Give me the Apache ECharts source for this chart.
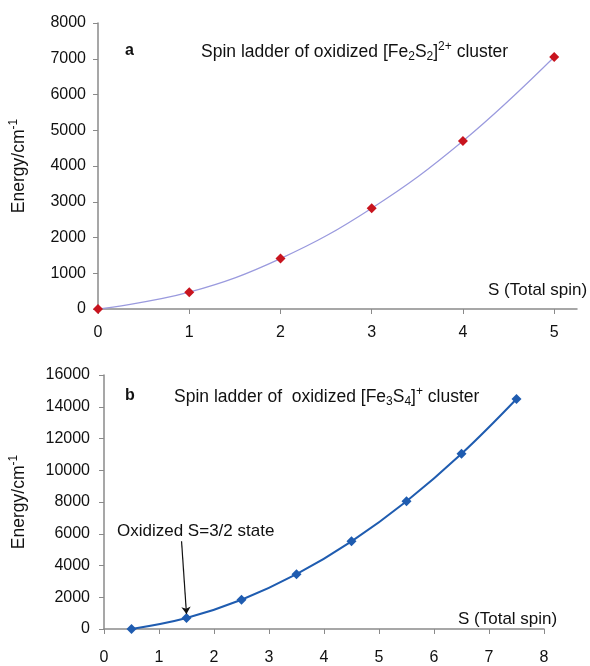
<!DOCTYPE html>
<html lang="en">
<head>
	<meta charset="UTF-8">
	<title>Spin ladders</title>
	<script type="text/javascript" src="https://cdn.jsdelivr.net/npm/echarts@6/dist/echarts.min.js"></script>
	<style type="text/css">
		html,body{margin:0;padding:0;background:#fff;}
	</style>
</head>
<body>
	<div id="main" style="width:590px;height:666px;"></div>
	<script>
		// panel a : [Fe2S2]2+
		var spinA = [0, 1, 2, 3, 4, 5];
		var energyA = [0, 470, 1410, 2820, 4700, 7050];
		var ticksA = [0, 1, 2, 3, 4, 5];
		// panel b : [Fe3S4]+
		var spinB = [0.5, 1.5, 2.5, 3.5, 4.5, 5.5, 6.5, 7.5];
		var energyB = [0, 690, 1840, 3450, 5520, 8050, 11040, 14490];
		var ticksB = [0, 1, 2, 3, 4, 5, 6, 7, 8];

		var font = 'Liberation Sans, Arial, sans-serif';
		var rich = {
			n: {fontSize: 17.5, lineHeight: 22, fontWeight: 'normal', color: '#111', fontFamily: font},
			sub: {fontSize: 12, lineHeight: 10, fontWeight: 'normal', verticalAlign: 'bottom', color: '#111', fontFamily: font},
			sup: {fontSize: 12, lineHeight: 10, fontWeight: 'normal', verticalAlign: 'top', color: '#111', fontFamily: font}
		};

		function pairs(xs, ys){
			var out = [];
			for(var i = 0; i < xs.length; i++){ out.push([xs[i], ys[i]]); }
			return out;
		}

		function xAxisOf(idx, max, ticks, margin){
			return {
				type: 'value', gridIndex: idx, min: 0, max: max,
				axisLine: {onZero: false, lineStyle: {color: '#8a8a8a', width: 1.5}},
				axisTick: {show: true, length: 5, customValues: ticks, lineStyle: {color: '#8a8a8a'}},
				axisLabel: {customValues: ticks, margin: margin, fontSize: 16, color: '#111', fontFamily: font},
				splitLine: {show: false}
			};
		}
		function yAxisOf(idx, max, interval, gap, margin){
			return {
				type: 'value', gridIndex: idx, min: 0, max: max, interval: interval,
				name: '{n|Energy/cm}{sup|-1}', nameLocation: 'middle', nameGap: gap, nameRotate: 90,
				nameTextStyle: {rich: rich},
				axisLine: {show: true, lineStyle: {color: '#8a8a8a', width: 1.5}},
				axisTick: {show: true, length: 5, lineStyle: {color: '#8a8a8a'}},
				axisLabel: {margin: margin, fontSize: 16, color: '#111', fontFamily: font,
					formatter: function(v){ return String(v); }},
				splitLine: {show: false}
			};
		}

		var chart = echarts.init(document.getElementById('main'));
		var option = {
			animation: false,
			backgroundColor: '#fff',
			grid: [
				{left: 92, top: 23, width: 485, height: 286},
				{left: 99, top: 375, width: 445, height: 258}
			],
			title: [
				{text: 'a', left: 120, top: 38, textStyle: {fontSize: 16, fontWeight: 'bold', color: '#111', fontFamily: font}},
				{text: '{n|Spin ladder of oxidized [Fe}{sub|2}{n|S}{sub|2}{n|]}{sup|2+}{n| cluster}', left: 196, top: 36, textStyle: {fontWeight: 'normal', rich: rich}},
				{text: 'S (Total spin)', left: 483, top: 277, textStyle: {fontSize: 17, fontWeight: 'normal', color: '#111', fontFamily: font}},
				{text: 'b', left: 120, top: 383, textStyle: {fontSize: 16, fontWeight: 'bold', color: '#111', fontFamily: font}},
				{text: '{n|Spin ladder of  oxidized [Fe}{sub|3}{n|S}{sub|4}{n|]}{sup|+}{n| cluster}', left: 169, top: 381, textStyle: {fontWeight: 'normal', rich: rich}},
				{text: 'S (Total spin)', left: 453, top: 606, textStyle: {fontSize: 17, fontWeight: 'normal', color: '#111', fontFamily: font}},
				{text: 'Oxidized S=3/2 state', left: 112, top: 518, textStyle: {fontSize: 17, fontWeight: 'normal', color: '#111', fontFamily: font}}
			],
			xAxis: [xAxisOf(0, 5.25, ticksA, 16), xAxisOf(1, 8, ticksB, 21)],
			yAxis: [yAxisOf(0, 8000, 1000, 68, 12), yAxisOf(1, 16000, 2000, 74, 14)],
			series: [
				{
					name: 'a', type: 'line', xAxisIndex: 0, yAxisIndex: 0,
					data: pairs(spinA, energyA), smooth: 0.4,
					symbol: 'diamond', symbolSize: 10,
					itemStyle: {color: '#c8141e'},
					lineStyle: {color: '#9a9ade', width: 1.2}
				},
				{
					name: 'b', type: 'line', xAxisIndex: 1, yAxisIndex: 1,
					data: pairs(spinB, energyB), smooth: 0.4,
					symbol: 'diamond', symbolSize: 10,
					itemStyle: {color: '#1f5cb0'},
					lineStyle: {color: '#1f5cb0', width: 2},
					markLine: {
						silent: true, symbol: ['none', 'arrow'], symbolSize: 7,
						label: {show: false},
						lineStyle: {color: '#111', width: 1.2, type: 'solid'},
						data: [[{coord: [1.41, 5530]}, {coord: [1.5, 950]}]]
					}
				}
			]
		};
		chart.setOption(option);
	</script>
</body>
</html>
